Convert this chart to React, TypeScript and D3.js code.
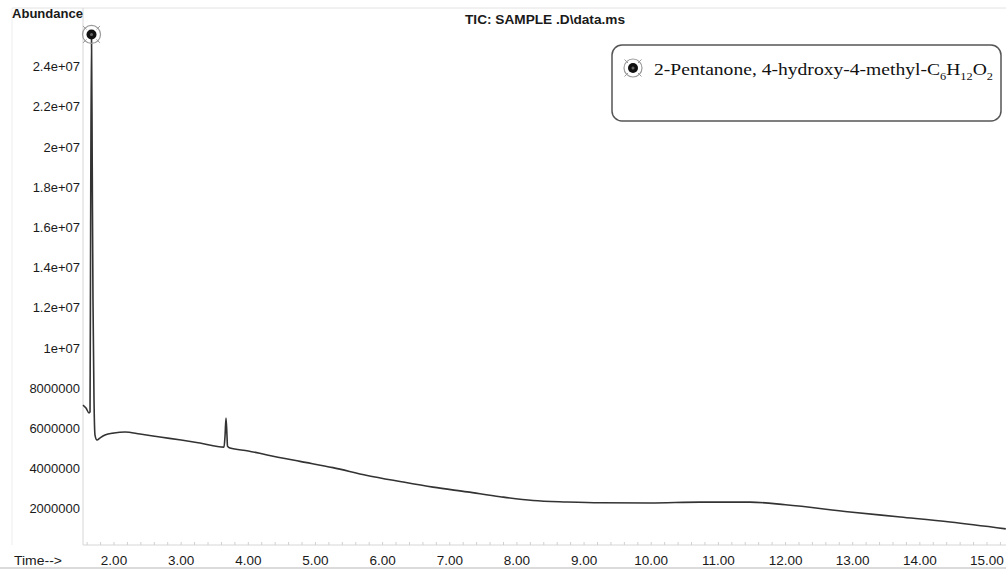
import React from "react";
import * as d3 from "d3";

// Retention time (min) and abundance of the TIC trace
const times = [
  1.538, 1.583, 1.628, 1.643, 1.652, 1.665, 1.676, 1.687, 1.702, 1.717, 1.747, 1.79, 1.866, 2.0, 2.164,
  2.387, 2.685, 3.0, 3.28, 3.638, 3.653, 3.668, 3.683, 3.69, 3.727, 4.0, 4.28, 4.77, 5.26, 5.77,
  6.26, 6.75, 7.26, 7.75, 8.24, 8.75, 9.24, 9.98, 10.73, 11.47, 12.0, 12.96, 13.71, 14.45, 15.28,
];
const abundance = [
  7.16e6, 7.01e6, 6.77e6, 6.82e6, 1.6e7, 2.56e7, 1.9e7, 1.24e7, 7.5e6, 5.67e6, 5.42e6, 5.52e6, 5.67e6, 5.77e6, 5.82e6,
  5.72e6, 5.57e6, 5.42e6, 5.27e6, 5.07e6, 5.6e6, 6.52e6, 5.6e6, 5.12e6, 5.02e6, 4.88e6, 4.68e6, 4.36e6, 4.05e6, 3.66e6,
  3.36e6, 3.08e6, 2.84e6, 2.6e6, 2.41e6, 2.34e6, 2.3e6, 2.29e6, 2.33e6, 2.33e6, 2.2e6, 1.84e6, 1.59e6, 1.34e6, 1.0e6,
];

const xTicks = [2, 3, 4, 5, 6, 7, 8, 9, 10, 11, 12, 13, 14, 15];
const yTicks = [2e6, 4e6, 6e6, 8e6, 1e7, 1.2e7, 1.4e7, 1.6e7, 1.8e7, 2e7, 2.2e7, 2.4e7];
const yTickLabels = [
  "2000000", "4000000", "6000000", "8000000", "1e+07", "1.2e+07", "1.4e+07",
  "1.6e+07", "1.8e+07", "2e+07", "2.2e+07", "2.4e+07",
];
const peakTime = 1.665;
const peakAbundance = 2.56e7;
const title = "TIC: SAMPLE .D\\data.ms";

const W = 1006;
const H = 569;

function Marker({ cx, cy }: { cx: number; cy: number }) {
  const d = [45, 135, 225, 315].map((a) => {
    const r = (a * Math.PI) / 180;
    return { x1: cx + Math.cos(r) * 7, y1: cy + Math.sin(r) * 7, x2: cx + Math.cos(r) * 12, y2: cy + Math.sin(r) * 12 };
  });
  return (
    <g>
      <circle cx={cx} cy={cy} r={9} fill="none" stroke="#9a9a9a" strokeWidth={1.2} />
      {d.map((l, i) => (
        <line key={i} {...l} stroke="#9a9a9a" strokeWidth={1} />
      ))}
      <circle cx={cx} cy={cy} r={5} fill="#111" />
      <circle cx={cx} cy={cy} r={1.5} fill="#666" />
    </g>
  );
}

export default function App() {
  const x = d3.scaleLinear().domain([2, 15]).range([114, 987]);
  const y = d3.scaleLinear().domain([0, 2.4e7]).range([549, 66.6]);
  const pts: [number, number][] = times.map((t, i) => [t, abundance[i]]);
  const line = d3
    .line<[number, number]>()
    .x((d) => x(d[0]))
    .y((d) => y(d[1]))
    .curve(d3.curveMonotoneX);
  const minor = d3.range(1.6, 15.3, 0.2);
  const axisY = 545;
  const axisX = 83;

  return (
    <svg
      width={W}
      height={H}
      style={{ position: "absolute", left: 0, top: 0, background: "#fff" }}
      fontFamily="Arial, 'Liberation Sans', sans-serif"
    >
      {/* frame lines */}
      <line x1={12} x2={W} y1={8} y2={8} stroke="#e2e2e2" strokeWidth={1} />
      <line x1={12} x2={12} y1={8} y2={545} stroke="#eeeeee" strokeWidth={1} />
      <line x1={0} x2={W} y1={568} y2={568} stroke="#cfcfcf" strokeWidth={1.5} />
      {/* axes */}
      <line x1={axisX} x2={axisX} y1={8} y2={axisY} stroke="#d6d6d6" strokeWidth={1} />
      <line x1={axisX} x2={W} y1={axisY} y2={axisY} stroke="#d6d6d6" strokeWidth={1} />
      {minor.map((t, i) => (
        <line key={i} x1={x(t)} x2={x(t)} y1={axisY} y2={axisY - 3} stroke="#d0d0d0" strokeWidth={1} />
      ))}
      {/* titles */}
      <text x={12} y={18} fontSize={12} fill="#1a1a1a" fontWeight={600} textLength={71} lengthAdjust="spacingAndGlyphs">
        Abundance
      </text>
      <text x={545} y={24} fontSize={12} fill="#1a1a1a" fontWeight={600} textAnchor="middle" textLength={160} lengthAdjust="spacingAndGlyphs">
        {title}
      </text>
      <text x={14} y={565} fontSize={12.5} fill="#1a1a1a" textLength={48} lengthAdjust="spacingAndGlyphs">
        Time--&gt;
      </text>
      {/* y tick labels */}
      {yTicks.map((v, i) => (
        <text key={v} x={80} y={y(v) + 4.5} fontSize={13} fill="#1a1a1a" textAnchor="end">
          {yTickLabels[i]}
        </text>
      ))}
      {/* x tick labels */}
      {xTicks.map((t) => (
        <text key={t} x={x(t)} y={565} fontSize={13.5} fill="#1a1a1a" textAnchor="middle">
          {t.toFixed(2)}
        </text>
      ))}
      {/* trace */}
      <path d={line(pts) || ""} fill="none" stroke="#333" strokeWidth={1.6} />
      <Marker cx={x(peakTime)} cy={y(peakAbundance)} />
      {/* legend */}
      <rect x={612} y={45} width={389} height={76} rx={10} ry={10} fill="#fff" stroke="#555" strokeWidth={1.5} />
      <Marker cx={633} cy={68} />
      <text
        x={654}
        y={75}
        fontSize={17.5}
        fill="#111"
        fontFamily="'Liberation Serif', 'DejaVu Serif', serif"
        textLength={339}
        lengthAdjust="spacingAndGlyphs"
      >
        2-Pentanone, 4-hydroxy-4-methyl-C
        <tspan fontSize={11} dy={5}>6</tspan>
        <tspan dy={-5}>H</tspan>
        <tspan fontSize={11} dy={5}>12</tspan>
        <tspan dy={-5}>O</tspan>
        <tspan fontSize={11} dy={5}>2</tspan>
      </text>
    </svg>
  );
}
